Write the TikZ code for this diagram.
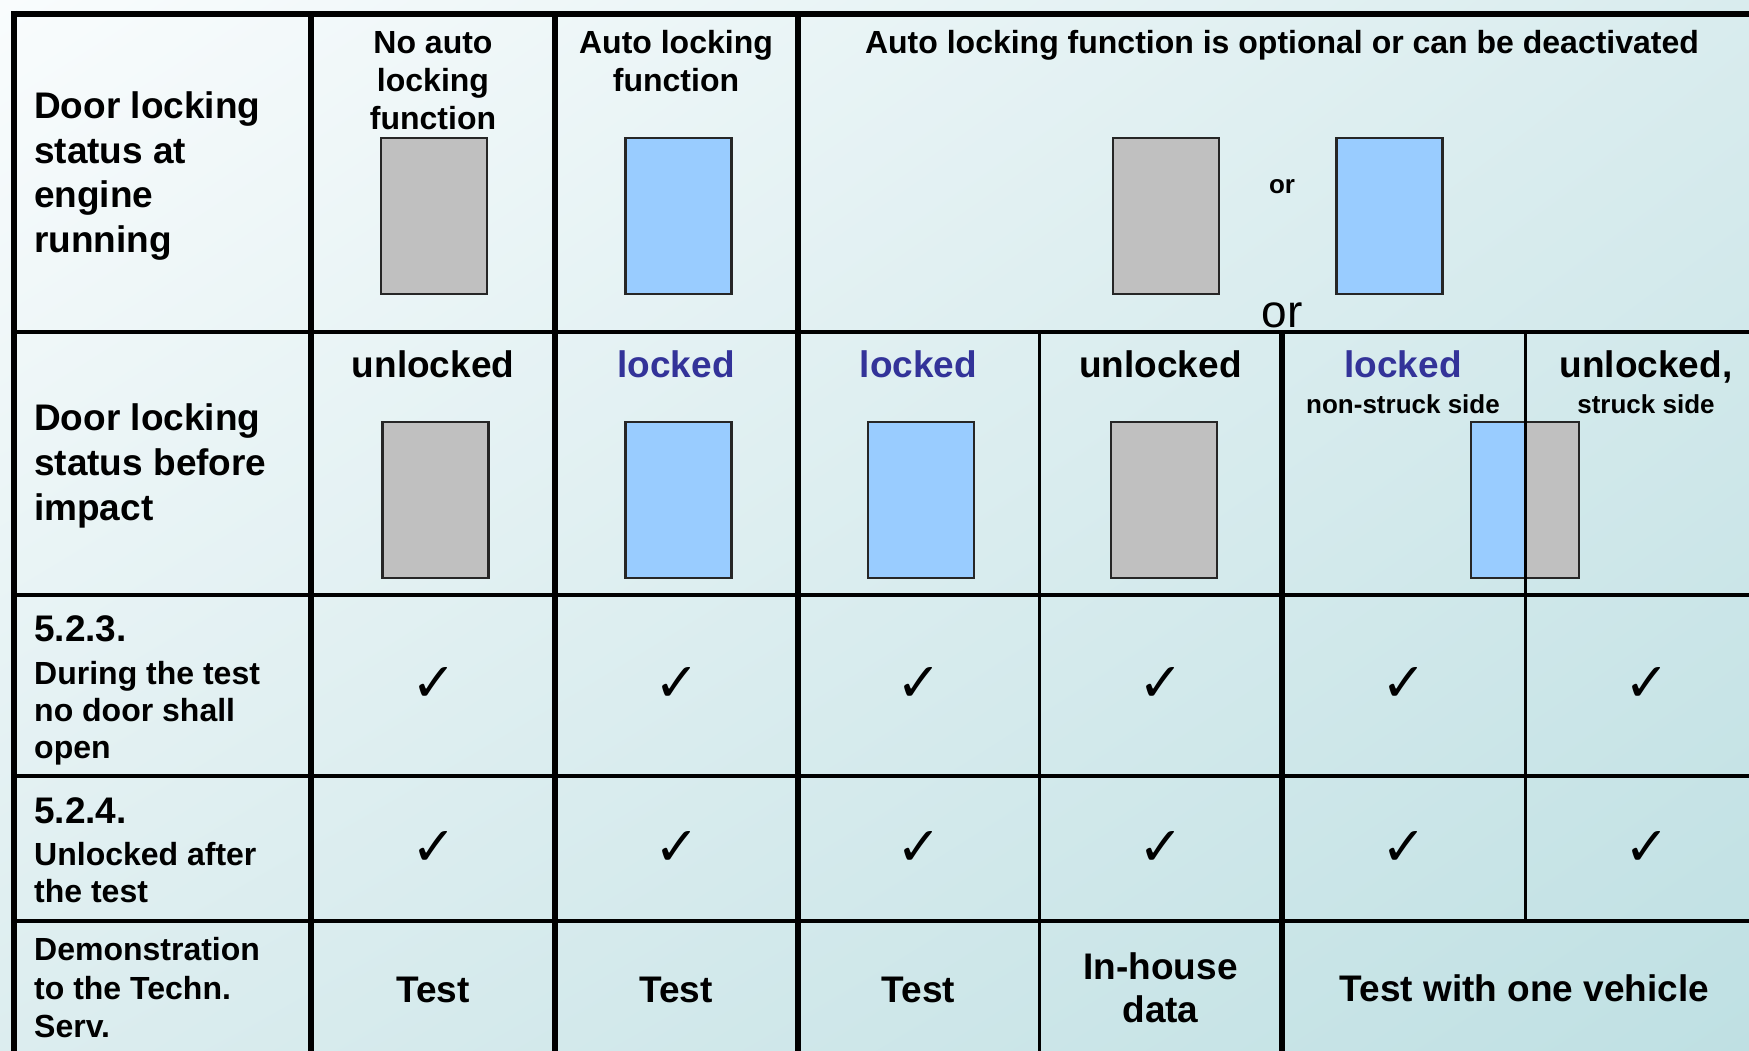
\documentclass[tikz,border=0pt]{standalone}
\usepackage{fontspec}
\usetikzlibrary{shadings}
\setmainfont{Liberation Sans}
\newfontfamily\djv{DejaVu Sans}
\definecolor{doorgray}{HTML}{C0C0C0}
\definecolor{doorblue}{HTML}{99CCFF}
\definecolor{lockblue}{HTML}{333399}
\definecolor{bgA}{HTML}{F9FCFD}
\definecolor{bgB}{HTML}{D9ECEE}
\definecolor{bgC}{HTML}{DCEDEF}
\definecolor{bgD}{HTML}{BFE0E3}
\begin{document}
\begin{tikzpicture}[x=1pt,y=-1pt,
  door/.style={draw=black!85, line width=2.5pt, inner sep=0, minimum height=156pt},
  gdoor/.style={door, fill=doorgray, minimum width=106pt},
  bdoor/.style={door, fill=doorblue, minimum width=106pt},
  hb/.style={font=\fontsize{37}{44}\selectfont\bfseries, inner sep=0, anchor=base west},
  tb/.style={font=\fontsize{32}{38}\selectfont\bfseries, inner sep=0, anchor=base west},
  cb/.style={font=\fontsize{32}{38}\selectfont\bfseries, inner sep=0, anchor=base},
  cbig/.style={font=\fontsize{37}{44}\selectfont\bfseries, inner sep=0, anchor=base},
  cs/.style={font=\fontsize{26}{30}\selectfont\bfseries, inner sep=0, anchor=base},
  lk/.style={cbig, text=lockblue},
  chk/.style={font=\djv\fontsize{54}{58}\selectfont, inner sep=0},
  thickrule/.style={line width=6pt},
  hrule/.style={line width=3.5pt},
  thinrule/.style={line width=3pt}]
\useasboundingbox (0,0) rectangle (1749,1051);
\shade[upper left=bgA, upper right=bgB, lower left=bgC, lower right=bgD] (0,0) rectangle (1749,1051);

% doors row 1
\node[gdoor] (d11) at (434,216) {};
\node[bdoor] (d12) at (678.5,216) {};
\node[gdoor] (d13) at (1166,216) {};
\node[bdoor] (d14) at (1389.5,216) {};
% doors row 2
\node[gdoor] (d21) at (435.5,500) {};
\node[bdoor] (d22) at (678.5,500) {};
\node[bdoor] (d23) at (921,500) {};
\node[gdoor] (d24) at (1164,500) {};
\node[door, fill=doorblue, minimum width=54pt] (d25) at (1498,500) {};
\node[door, fill=doorgray, minimum width=54pt] (d26) at (1552,500) {};

% grid
\draw[thickrule] (11,14) -- (1749,14);
\draw[thickrule] (14,11) -- (14,1051);
\draw[thickrule] (311,14) -- (311,1051);
\draw[thickrule] (555,14) -- (555,1051);
\draw[thickrule] (797.5,14) -- (797.5,1051);
\draw[thickrule] (1281.5,332) -- (1281.5,1051);
\draw[thinrule] (1039.5,332) -- (1039.5,1051);
\draw[thinrule] (1525,332) -- (1525,921);
\draw[hrule] (14,332) -- (1749,332);
\draw[hrule] (14,595) -- (1749,595);
\draw[hrule] (14,776) -- (1749,776);
\draw[hrule] (14,921) -- (1749,921);

% left column
\node[hb] (a1) at (34,119) {Door locking};
\node[hb] (a2) at (34,164) {status at};
\node[hb] (a3) at (34,208) {engine};
\node[hb] (a4) at (34,253) {running};
\node[hb] (b1) at (34,430) {Door locking};
\node[hb] (b2) at (34,475) {status before};
\node[hb] (b3) at (34,520) {impact};
\node[hb] (c1) at (34,641) {5.2.3.};
\node[tb] (c2) at (34,684) {During the test};
\node[tb] (c3) at (34,721) {no door shall};
\node[tb] (c4) at (34,758) {open};
\node[hb] (e1) at (34,823) {5.2.4.};
\node[tb] (e2) at (34,865) {Unlocked after};
\node[tb] (e3) at (34,902) {the test};
\node[tb] (f1) at (34,960) {Demonstration};
\node[tb] (f2) at (34,999) {to the Techn.};
\node[tb] (f3) at (34,1037) {Serv.};

% top headers
\node[cb] (t1a) at (433,54) {No auto};
\node[cb] (t1b) at (433,92) {locking};
\node[cb] (t1c) at (433,130) {function};
\node[cb] (t2a) at (676,54) {Auto locking};
\node[cb] (t2b) at (676,92) {function};
\node[cb] (t3) at (1282,54) {Auto locking function is optional or can be deactivated};
\node[cs] (or1) at (1282,194) {or};
\node[font=\fontsize{46}{50}\selectfont, inner sep=0, anchor=base] (or2) at (1282,327) {or};

% row 2 labels
\node[cbig] (s1) at (433,377) {unlocked};
\node[lk] (s2) at (676,377) {locked};
\node[lk] (s3) at (918.5,377) {locked};
\node[cbig] (s4) at (1160.5,377) {unlocked};
\node[lk] (s5) at (1403,377) {locked};
\node[cbig] (s6) at (1646,377) {unlocked,};
\node[cs] (s5b) at (1403,413) {non-struck side};
\node[cs] (s6b) at (1646,413) {struck side};

% checks
\foreach \i/\x in {1/434,2/677,3/919.5,4/1161.5,5/1404,6/1647}{
  \node[chk] (k3\i) at (\x,684) {✓};
  \node[chk] (k4\i) at (\x,848) {✓};
}

% bottom row
\node[cbig] (g1) at (433,1002) {Test};
\node[cbig] (g2) at (676,1002) {Test};
\node[cbig] (g3) at (918.5,1002) {Test};
\node[cbig] (g4a) at (1160.5,979) {In-house};
\node[cbig] (g4b) at (1160.5,1022) {data};
\node[cbig] (g5) at (1524.5,1001) {Test with one vehicle};
\end{tikzpicture}
\end{document}
